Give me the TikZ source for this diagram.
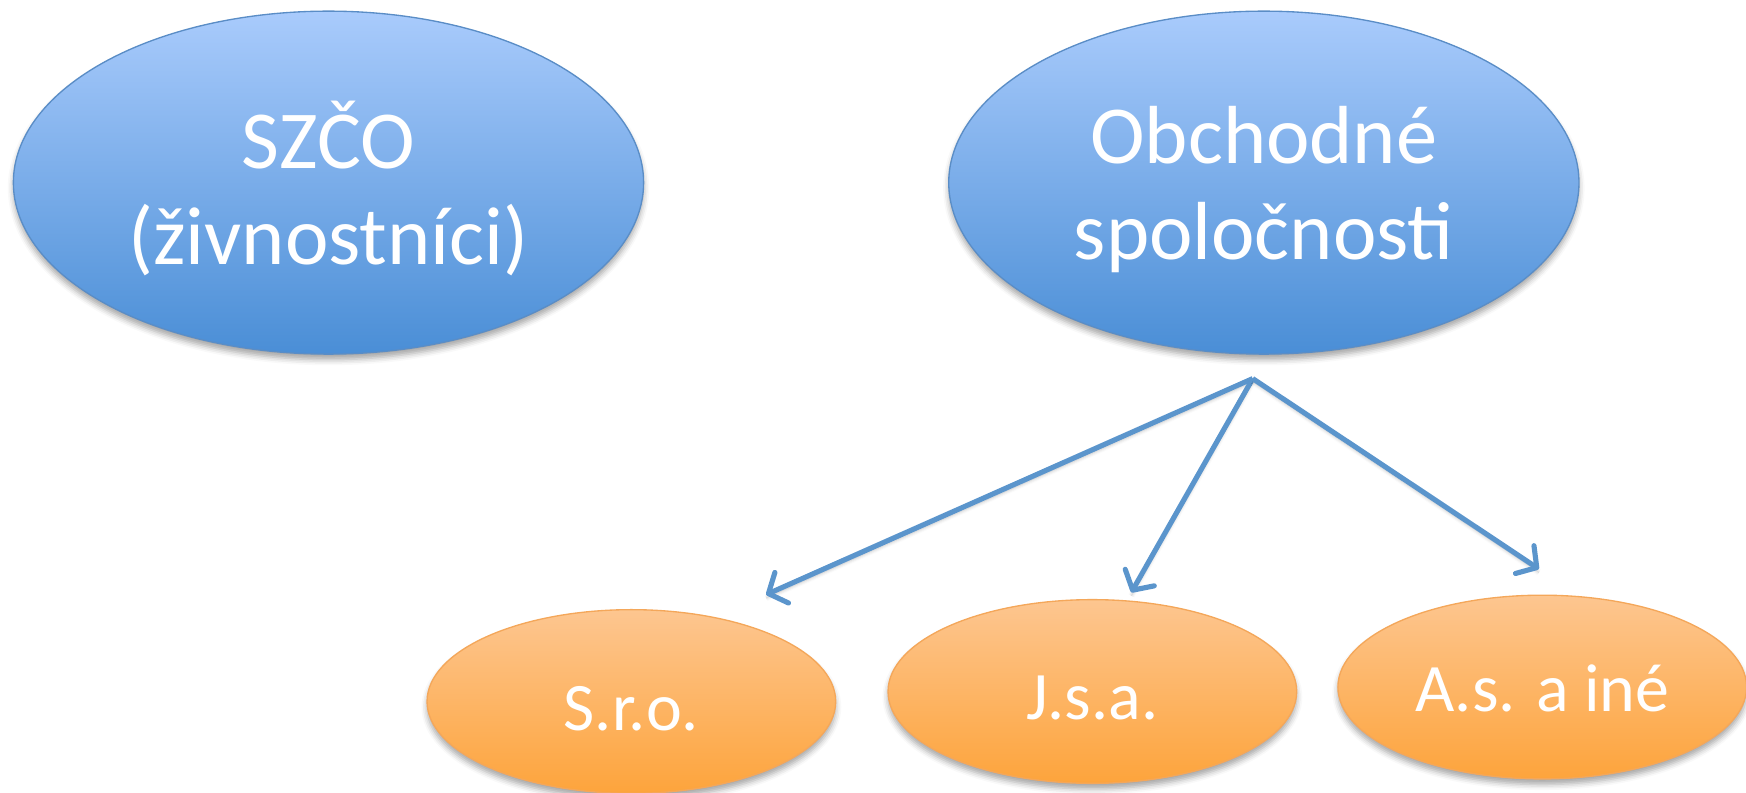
\documentclass[tikz,border=0pt]{standalone}
\usepackage{fontspec}
\setmainfont{Carlito}
\usetikzlibrary{shapes.geometric,arrows.meta,shadows.blur}
\definecolor{bluetop}{HTML}{A9CBFC}
\definecolor{bluebot}{HTML}{4A8ED6}
\definecolor{blueedge}{HTML}{5A8DC6}
\definecolor{orangetop}{HTML}{FDC690}
\definecolor{orangebot}{HTML}{FDA43C}
\definecolor{orangeedge}{HTML}{F4A75A}
\definecolor{arrowblue}{HTML}{5B95CC}
\tikzset{
  bigoval/.style={ellipse, inner sep=0pt, minimum width=566pt, minimum height=308pt,
    top color=bluetop, bottom color=bluebot, draw=blueedge, line width=1.2pt,
    blur shadow={shadow xshift=0pt, shadow yshift=-5pt, shadow blur radius=5pt, shadow opacity=35},
    text=white, align=center, text depth=0pt, font=\fontsize{74}{86}\selectfont},
  smalloval/.style={ellipse, inner sep=0pt, minimum width=367pt, minimum height=165pt,
    top color=orangetop, bottom color=orangebot, draw=orangeedge, line width=1.2pt,
    blur shadow={shadow xshift=0pt, shadow yshift=-5pt, shadow blur radius=5pt, shadow opacity=35},
    text=white, font=\fontsize{61}{70}\selectfont},
  conn/.style={draw=arrowblue, line width=4.6pt,
    -{Straight Barb[length=13pt, width=30pt, line width=4.6pt, round]},
    blur shadow={shadow xshift=0pt, shadow yshift=-3pt, shadow blur radius=3pt, shadow opacity=25}}
}
\begin{document}
\begin{tikzpicture}[x=1pt,y=-1pt]
\useasboundingbox (0,0) rectangle (1568,712);
\node[bigoval] (szco) at (295,164) {SZČO\\(živnostníci)};
\node[bigoval] (obch) at (1135,164) {Obchodné\\spoločnosti};
\node[smalloval, text height=52pt, text depth=0pt] (sro) at (567,630) {S.r.o.};
\node[smalloval, text height=50pt, text depth=0pt] (jsa) at (981,621) {J.s.a.};
\node[smalloval, text height=44pt, text depth=0pt] (as) at (1385,617) {A.s. a iné};
\coordinate (apex) at (1125,340);
\coordinate (sroend) at (688,534);
\coordinate (jsaend) at (1016,532);
\coordinate (asend) at (1382,511);
\draw[conn] (apex) -- (sroend);
\draw[conn] (apex) -- (jsaend);
\draw[conn] (apex) -- (asend);
\end{tikzpicture}
\end{document}
